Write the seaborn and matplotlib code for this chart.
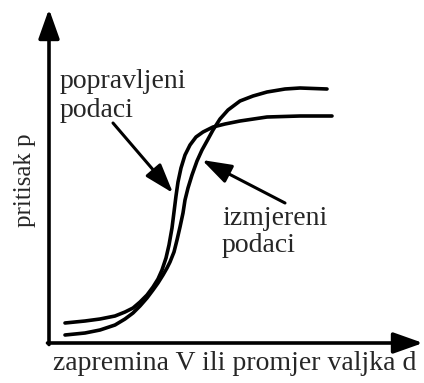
import matplotlib
matplotlib.use("Agg")
import matplotlib.pyplot as plt
import seaborn as sns
import pandas as pd

# curve values (x = volume / diameter, y = pressure, arbitrary units)
x_popravljeni = [16, 36, 51, 66, 76, 84, 91, 98, 104, 109, 113, 117, 120, 123, 125, 127,
                 129, 132, 136, 141, 147, 154, 164, 176, 191, 218, 251, 283]
y_popravljeni = [20, 22, 24, 27, 31, 35, 41, 48, 56, 64, 73, 85, 98, 115, 131, 147,
                 161, 175, 188, 198, 206, 211, 216, 219, 222, 226, 227, 227]

x_izmjereni = [16, 36, 51, 66, 76, 84, 91, 98, 104, 109, 114, 118, 121, 125, 128, 131,
               134, 136, 139, 143, 148, 153, 158, 164, 171, 179, 191, 204, 218, 236, 251, 278]
y_izmjereni = [8, 10, 13, 18, 24, 30, 37, 45, 53, 60, 68, 75, 81, 91, 103, 116,
               130, 143, 155, 168, 182, 193, 202, 213, 224, 233, 242, 247, 251, 254, 255, 254]

x_label = "zapremina V ili promjer valjka d"
y_label = "pritisak p"
lbl_popravljeni = ["popravljeni", "podaci"]
lbl_izmjereni = ["izmjereni", "podaci"]

df = pd.concat([
    pd.DataFrame({"x": x_popravljeni, "y": y_popravljeni, "serija": "popravljeni"}),
    pd.DataFrame({"x": x_izmjereni, "y": y_izmjereni, "serija": "izmjereni"}),
])

sns.set_style("white")
plt.rcParams["font.family"] = ["Liberation Serif", "DejaVu Serif"]

fig = plt.figure(figsize=(4.24, 3.83), dpi=100)
ax = fig.add_axes([0, 0, 1, 1])

sns.lineplot(data=df, x="x", y="y", hue="serija", sort=False,
             palette={"popravljeni": "black", "izmjereni": "black"},
             linewidth=2.6, legend=False, ax=ax)

ax.set_xlim(-49, 375)
ax.set_ylim(-40, 343)
ax.set_axis_off()

# axes with arrow heads
ax_arrow = dict(arrowstyle="-|>,head_length=0.9,head_width=0.32", lw=2.6,
                color="black", shrinkA=0, shrinkB=0, mutation_scale=20)
ax.annotate("", xy=(0, 334), xytext=(0, -1.5), arrowprops=ax_arrow)
ax.annotate("", xy=(374, 0), xytext=(-1.5, 0), arrowprops=ax_arrow)

# pointer arrows
ptr = dict(arrowstyle="-|>,head_length=0.9,head_width=0.3", lw=2.2,
           color="black", shrinkA=0, shrinkB=0, mutation_scale=20)
ax.annotate("", xy=(124, 150), xytext=(64, 220), arrowprops=ptr)
ax.annotate("", xy=(153, 183), xytext=(236, 140), arrowprops=ptr)

for i, s in enumerate(lbl_popravljeni):
    ax.text(11, 255 - 29 * i, s, fontsize=20, va="baseline", ha="left")
for i, s in enumerate(lbl_izmjereni):
    ax.text(173, 118 - 27 * i, s, fontsize=20, va="baseline", ha="left")

ax.text(4, -27, x_label, fontsize=20, va="baseline", ha="left")
ax.text(-24, 163, y_label, fontsize=18, va="center", ha="center", rotation=90)

fig.savefig("out.png", dpi=100)
